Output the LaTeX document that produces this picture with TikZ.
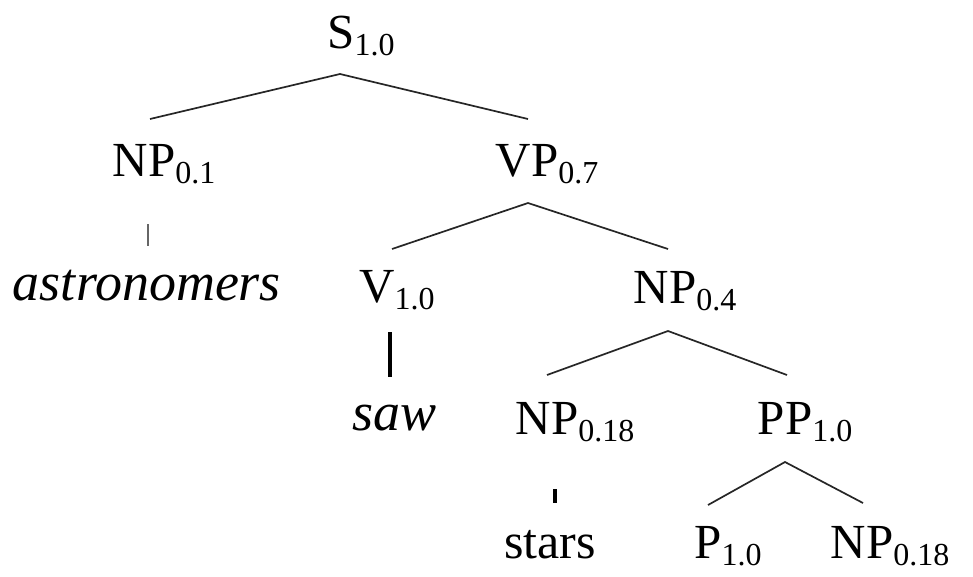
\documentclass[tikz,border=0pt]{standalone}
\usepackage{fontspec}
\setmainfont{Liberation Serif}
\usetikzlibrary{calc}
\newcommand\catlbl[2]{#1\rlap{\raisebox{-7pt}{\fontsize{32}{34}\selectfont #2}}}
\begin{document}
\begin{tikzpicture}[x=1pt,y=-1pt,
  cat/.style={inner sep=0pt, anchor=base, font=\fontsize{49}{56}\selectfont},
  word/.style={inner sep=0pt, anchor=base, font=\fontsize{50}{56}\selectfont},
  itword/.style={inner sep=0pt, anchor=base, font=\fontsize{54}{60}\selectfont\itshape},
  branch/.style={line width=1.7pt, draw=black!85},
  thintick/.style={line width=1.3pt, draw=black!60},
  thicktick/.style={line width=3.2pt, draw=black}]
\useasboundingbox (0,0) rectangle (973,576);
% nodes
\node[cat] (S) at (341,48) {\catlbl{S}{1.0}};
\node[cat] (NP1) at (144,176) {\catlbl{NP}{0.1}};
\node[cat] (VP) at (527,176) {\catlbl{VP}{0.7}};
\node[itword] (astr) at (147,300) {astronomers};
\node[cat] (V) at (377,302) {\catlbl{V}{1.0}};
\node[cat] (NP4) at (665,303) {\catlbl{NP}{0.4}};
\node[itword] (saw) at (395,430) {saw};
\node[cat] (NP18a) at (547,434) {\catlbl{NP}{0.18}};
\node[cat] (PP) at (785,434) {\catlbl{PP}{1.0}};
\node[word] (stars) at (550,558) {stars};
\node[cat] (P) at (708,558) {\catlbl{P}{1.0}};
\node[cat] (NP18b) at (862,558) {\catlbl{NP}{0.18}};
% connectors
\draw[branch] ($(NP1.base)+(6,-57)$) -- ($(S.base)+(-1,26)$) -- ($(VP.base)+(1,-57)$);
\draw[thintick] ($(NP1.base)+(4,48)$) -- ($(astr.base)+(1,-54)$);
\draw[branch] ($(V.base)+(15,-53)$) -- ($(VP.base)+(1,27)$) -- ($(NP4.base)+(3,-54)$);
\draw[thicktick] ($(V.base)+(13,30)$) -- ($(saw.base)+(-5,-53)$);
\draw[branch] ($(NP18a.base)+(0,-59)$) -- ($(NP4.base)+(3,28)$) -- ($(PP.base)+(2,-59)$);
\draw[thicktick] ($(NP18a.base)+(8,55)$) -- ($(stars.base)+(5,-55)$);
\draw[branch] ($(P.base)+(0,-53)$) -- ($(PP.base)+(0,28)$) -- ($(NP18b.base)+(1,-55)$);
\end{tikzpicture}
\end{document}
